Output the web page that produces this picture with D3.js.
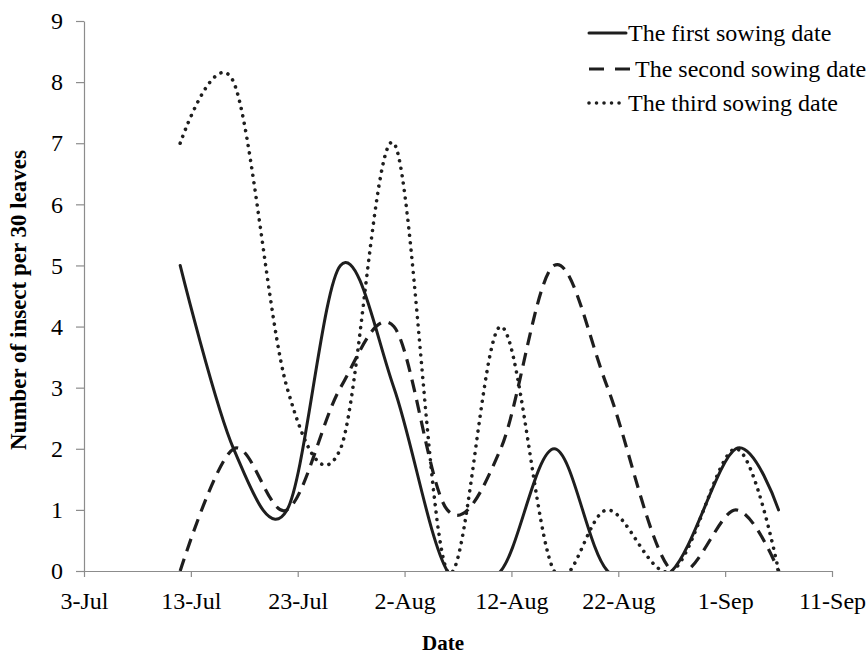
<!DOCTYPE html>
<html>
<head>
<meta charset="utf-8">
<script src="https://cdn.jsdelivr.net/npm/d3@7"></script>
<style>
  body { margin: 0; background: #fff; }
  text { font-family: "Liberation Serif", "Times New Roman", serif; fill: #000; }
</style>
</head>
<body>
<div id="c"></div>
<script>
// sampling dates and insect counts per 30 leaves
var dates = ["12-Jul", "17-Jul", "22-Jul", "27-Jul", "1-Aug", "6-Aug", "11-Aug", "16-Aug", "21-Aug", "27-Aug", "2-Sep", "6-Sep"];
var first_sowing  = [5, 2, 1, 5, 3, 0, 0, 2, 0, 0, 2, 1];
var second_sowing = [0, 2, 1, 3, 4, 1, 2, 5, 3, 0, 1, 0];
var third_sowing  = [7, 8, 3, 2, 7, 0, 4, 0, 1, 0, 2, 0];

var series_names = ["The first sowing date", "The second sowing date", "The third sowing date"];
var x_ticks = ["3-Jul", "13-Jul", "23-Jul", "2-Aug", "12-Aug", "22-Aug", "1-Sep", "11-Sep"];
var y_ticks = [0, 1, 2, 3, 4, 5, 6, 7, 8, 9];

var width = 868;
var height = 656;

var x_left = 84, x_right = 832;
var y_bottom = 571, y_top = 21;

var serif = "'Liberation Serif', 'Times New Roman', serif";

var parse = d3.timeParse("%d-%b-%Y");
function to_date(s) { return parse(s + "-2012"); }

var svg = d3.select("#c").append("svg")
	.attr("width", width)
	.attr("height", height);

var x_scale = d3.scaleTime()
	.domain([to_date(x_ticks[0]), to_date(x_ticks[x_ticks.length - 1])])
	.range([x_left, x_right]);

var y_scale = d3.scaleLinear()
	.domain([0, 9])
	.range([y_bottom, y_top]);

// axes
svg.append("g")
	.attr("transform", "translate(0," + y_bottom + ")")
	.call(d3.axisBottom(x_scale)
		.tickValues(x_ticks.map(to_date))
		.tickFormat(d3.timeFormat("%-d-%b"))
		.tickSizeInner(6)
		.tickSizeOuter(0)
		.tickPadding(15));

svg.append("g")
	.attr("transform", "translate(" + x_left + ",0)")
	.call(d3.axisLeft(y_scale)
		.tickValues(y_ticks)
		.tickSizeInner(8)
		.tickSizeOuter(0)
		.tickPadding(13));

svg.selectAll(".domain, .tick line")
	.attr("stroke", "#8c8c8c")
	.attr("stroke-width", 1.2);

svg.selectAll(".tick text")
	.attr("font-family", serif)
	.style("font-family", serif)
	.style("font-size", "24px")
	.attr("fill", "#000");

// axis titles
svg.append("text")
	.attr("x", 443)
	.attr("y", 650)
	.attr("text-anchor", "middle")
	.style("font-family", serif)
	.style("font-size", "21px")
	.style("font-weight", "bold")
	.text("Date");

svg.append("text")
	.attr("transform", "translate(26," + ((y_top + y_bottom) / 2 + 4) + ") rotate(-90)")
	.attr("text-anchor", "middle")
	.style("font-family", serif)
	.style("font-size", "23px")
	.style("font-weight", "bold")
	.text("Number of insect per 30 leaves");

// clip curves at the plot area (smooth lines dip below zero)
svg.append("defs").append("clipPath")
	.attr("id", "plot-clip")
	.append("rect")
	.attr("x", x_left)
	.attr("y", 0)
	.attr("width", x_right - x_left)
	.attr("height", y_bottom);

var styles = [
	{ dash: null, cap: "round", w: 3 },
	{ dash: "13,8", cap: "butt", w: 3.2 },
	{ dash: "0.01,7.5", cap: "round", w: 3.6 }
];

var all_values = [first_sowing, second_sowing, third_sowing];

var line = d3.line()
	.x(function(d) { return x_scale(to_date(d.date)); })
	.y(function(d) { return y_scale(d.v); })
	.curve(d3.curveCardinal.tension(0));

var lines_g = svg.append("g").attr("clip-path", "url(#plot-clip)");

all_values.forEach(function(vals, i) {
	var pts = dates.map(function(d, j) { return { date: d, v: vals[j] }; });
	lines_g.append("path")
		.datum(pts)
		.attr("d", line)
		.attr("fill", "none")
		.attr("stroke", "#1e1e1e")
		.attr("stroke-width", styles[i].w)
		.attr("stroke-linecap", styles[i].cap)
		.attr("stroke-dasharray", styles[i].dash);
});

// legend
var legend_y = [33, 69, 103];
var legend = svg.append("g");

series_names.forEach(function(name, i) {
	legend.append("line")
		.attr("x1", 589)
		.attr("x2", i == 1 ? 630 : 626)
		.attr("y1", legend_y[i])
		.attr("y2", legend_y[i])
		.attr("stroke", "#1e1e1e")
		.attr("stroke-width", styles[i].w)
		.attr("stroke-linecap", styles[i].cap)
		.attr("stroke-dasharray", i == 1 ? "15,11" : styles[i].dash);

	legend.append("text")
		.attr("x", i == 1 ? 635 : 628)
		.attr("y", legend_y[i])
		.attr("dy", "0.33em")
		.style("font-family", serif)
		.style("font-size", "24px")
		.text(name);
});
</script>
</body>
</html>
